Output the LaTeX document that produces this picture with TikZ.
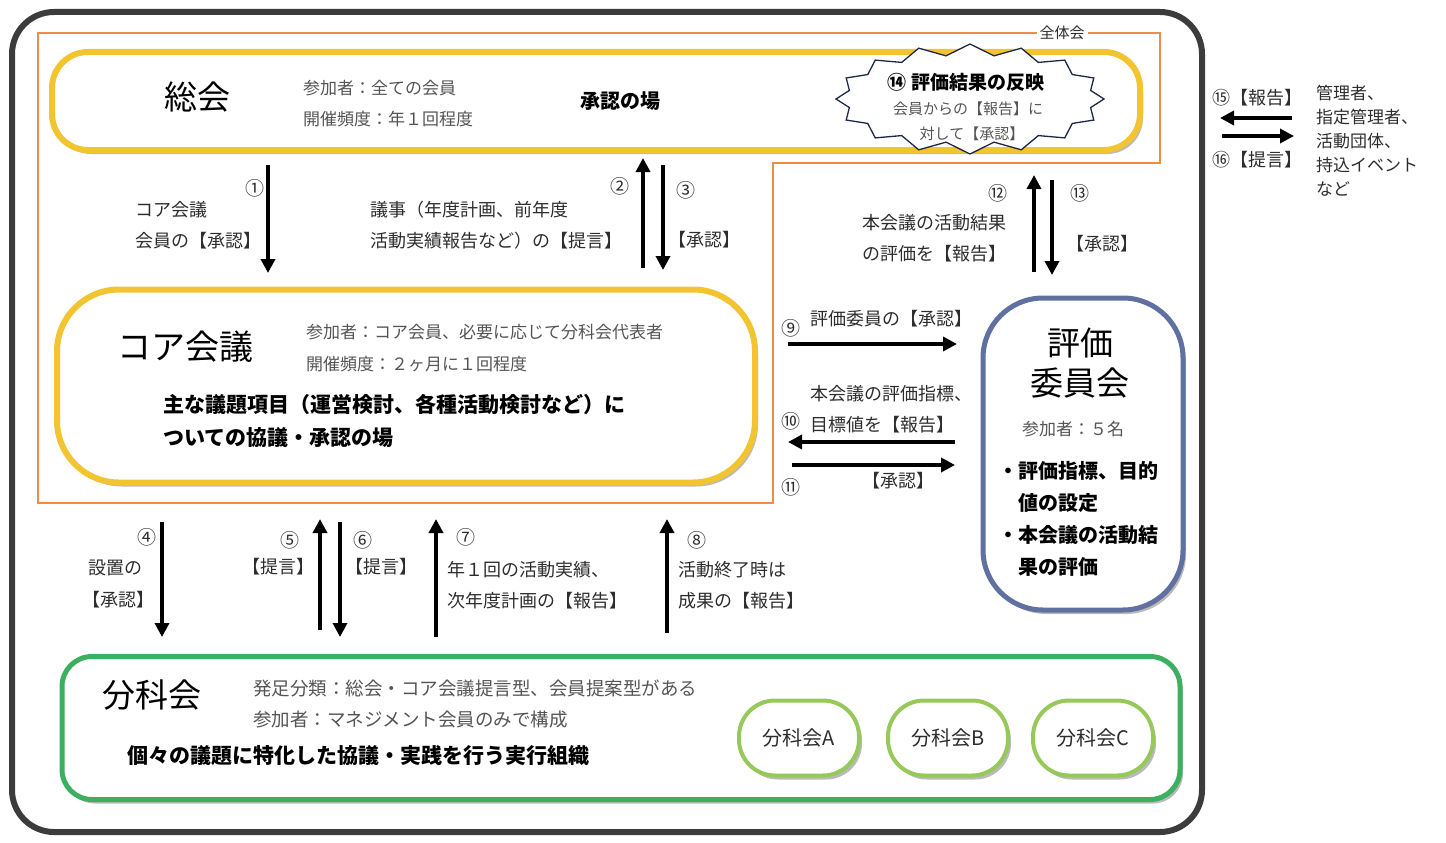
\documentclass[tikz,border=0pt]{standalone}
\usepackage{fontspec}
\setmainfont{Noto Sans CJK JP}
\usetikzlibrary{shapes.symbols,shadows,arrows.meta}
\definecolor{frame}{RGB}{60,60,60}
\definecolor{orng}{RGB}{240,140,70}
\definecolor{gold}{RGB}{242,196,48}
\definecolor{bluegray}{RGB}{96,112,160}
\definecolor{grn}{RGB}{60,176,96}
\definecolor{lgrn}{RGB}{150,200,90}
\definecolor{navy}{RGB}{30,40,70}
\definecolor{txtg}{RGB}{85,85,85}
\definecolor{txtd}{RGB}{45,45,45}
\tikzset{
  shd/.style={drop shadow={shadow xshift=3pt,shadow yshift=-4pt,opacity=0.45,fill=black!60}},
  goldbox/.style={draw=gold, line width=6pt, fill=white, shd},
  bluebox/.style={draw=bluegray, line width=5pt, fill=white, shd, rounded corners=60pt},
  greenbox/.style={draw=grn, line width=5pt, fill=white, shd, rounded corners=30pt},
  subbox/.style={draw=lgrn, line width=4pt, fill=white, shd, rounded corners=36pt,
     minimum width=120pt, minimum height=75pt, font=\fontsize{20}{22}\selectfont, text=txtd},
  arr/.style={line width=3.5pt, -{Triangle[length=14pt,width=14pt]}},
  lbl/.style={anchor=west, inner sep=0pt, text=txtd, font=\fontsize{18}{20}\selectfont},
  num/.style={inner sep=0pt, text=txtd, font=\fontsize{19}{20}\selectfont},
  info/.style={anchor=west, inner sep=0pt, text=txtg, font=\fontsize{17}{19}\selectfont},
  big/.style={inner sep=0pt, text=black, font=\fontsize{33}{36}\selectfont},
  bold/.style={anchor=west, inner sep=0pt, text=black, font=\bfseries\fontsize{21}{23}\selectfont},
}
\begin{document}
\begin{tikzpicture}[x=1pt,y=-1pt]
\useasboundingbox (0,0) rectangle (1446,843);
% outer frame
\draw[frame, line width=6pt, rounded corners=42pt] (12,12) rectangle (1202,832);
% orange frame (全体会)
\draw[orng, line width=1.6pt] (38,33) -- (1160,33) -- (1160,163) -- (773,163) -- (773,503) -- (38,503) -- cycle;
\node[fill=white, inner sep=3pt, text=txtd, font=\fontsize{15}{17}\selectfont] (zentai) at (1062,33) {全体会};

% 総会
\node[goldbox, rounded corners=36pt, minimum width=1088pt, minimum height=98pt] (sokai) at (596,101) {};
\node[big] (sokaiT) at (197,97) {総会};
\node[info] (sokaiI1) at (303,88) {参加者：全ての会員};
\node[info] (sokaiI2) at (303,119) {開催頻度：年１回程度};
\node[inner sep=0pt, font=\bfseries\fontsize{20}{22}\selectfont] (sokaiB) at (620,101) {承認の場};
% starburst
\node[starburst, starburst points=16, starburst point height=11pt, random starburst=0,
      draw=navy, fill=white, line width=1.3pt, minimum width=268pt, minimum height=110pt] (burst) at (970,99) {};
\node[inner sep=0pt, font=\bfseries\fontsize{19}{21}\selectfont] (b1) at (966,82) {⑭ 評価結果の反映};
\node[inner sep=0pt, text=txtg, font=\fontsize{15}{17}\selectfont] (b2) at (968,109) {会員からの【報告】に};
\node[inner sep=0pt, text=txtg, font=\fontsize{15}{17}\selectfont] (b3) at (972,134) {対して【承認】};

% コア会議
\node[goldbox, rounded corners=62pt, minimum width=698pt, minimum height=193pt] (core) at (406,386) {};
\node[big, font=\fontsize{34}{36}\selectfont] (coreT) at (185,347) {コア会議};
\node[info] (coreI1) at (306,332) {参加者：コア会員、必要に応じて分科会代表者};
\node[info] (coreI2) at (306,364) {開催頻度：２ヶ月に１回程度};
\node[bold] (coreB1) at (163,404) {主な議題項目（運営検討、各種活動検討など）に};
\node[bold] (coreB2) at (163,438) {ついての協議・承認の場};

% 評価委員会
\node[bluebox, minimum width=200pt, minimum height=312pt] (hyoka) at (1083,454) {};
\node[big] (hyT1) at (1080,343) {評価};
\node[big] (hyT2) at (1080,383) {委員会};
\node[inner sep=0pt, text=txtg, font=\fontsize{17}{19}\selectfont] (hyI) at (1073,429) {参加者：５名};
\node[bold, font=\bfseries\fontsize{20}{22}\selectfont] (hyB1) at (998,471) {・評価指標、目的};
\node[bold, font=\bfseries\fontsize{20}{22}\selectfont] (hyB2) at (1018,503) {値の設定};
\node[bold, font=\bfseries\fontsize{20}{22}\selectfont] (hyB3) at (998,535) {・本会議の活動結};
\node[bold, font=\bfseries\fontsize{20}{22}\selectfont] (hyB4) at (1018,567) {果の評価};

% 分科会
\node[greenbox, minimum width=1118pt, minimum height=143pt] (bunka) at (621,728) {};
\node[big] (bunkaT) at (152,695) {分科会};
\node[info, font=\fontsize{18.5}{20}\selectfont] (bunI1) at (253,688) {発足分類：総会・コア会議提言型、会員提案型がある};
\node[info, font=\fontsize{18.5}{20}\selectfont] (bunI2) at (253,720) {参加者：マネジメント会員のみで構成};
\node[bold] (bunB) at (127,756) {個々の議題に特化した協議・実践を行う実行組織};
\node[subbox] (bA) at (799,738) {分科会A};
\node[subbox] (bB) at (948,738) {分科会B};
\node[subbox] (bC) at (1093,738) {分科会C};

% arrows 1-3
\coordinate (a1s) at (268,165); \coordinate (a1e) at (268,273);
\draw[arr] (a1s) -- (a1e);
\node[num] (n1) at (255,188) {①};
\node[lbl] (l1a) at (135,210) {コア会議};
\node[lbl] (l1b) at (135,241) {会員の【承認】};
\coordinate (a2s) at (643,268); \coordinate (a2e) at (643,158);
\draw[arr] (a2s) -- (a2e);
\coordinate (a3s) at (663,165); \coordinate (a3e) at (663,270);
\draw[arr] (a3s) -- (a3e);
\node[num] (n2) at (620,186) {②};
\node[num] (n3) at (686,190) {③};
\node[lbl] (l2a) at (370,210) {議事（年度計画、前年度};
\node[lbl] (l2b) at (370,241) {活動実績報告など）の【提言】};
\node[lbl] (l3) at (668,240) {【承認】};

% arrows 12-13
\coordinate (a12s) at (1034,272); \coordinate (a12e) at (1034,175);
\draw[arr] (a12s) -- (a12e);
\coordinate (a13s) at (1052,180); \coordinate (a13e) at (1052,275);
\draw[arr] (a13s) -- (a13e);
\node[num] (n12) at (998,193) {⑫};
\node[num] (n13) at (1080,193) {⑬};
\node[lbl] (l12a) at (862,223) {本会議の活動結果};
\node[lbl] (l12b) at (862,254) {の評価を【報告】};
\node[lbl] (l13) at (1066,244) {【承認】};

% arrows 9-11
\coordinate (a9s) at (788,344); \coordinate (a9e) at (957,344);
\draw[arr] (a9s) -- (a9e);
\node[num] (n9) at (791,328) {⑨};
\node[lbl] (l9) at (810,319) {評価委員の【承認】};
\coordinate (a10s) at (955,442); \coordinate (a10e) at (788,442);
\draw[arr] (a10s) -- (a10e);
\node[lbl] (l10a) at (810,394) {本会議の評価指標、};
\node[num] (n10) at (791,421) {⑩};
\node[lbl] (l10b) at (810,425) {目標値を【報告】};
\coordinate (a11s) at (792,465); \coordinate (a11e) at (955,465);
\draw[arr] (a11s) -- (a11e);
\node[lbl] (l11) at (862,481) {【承認】};
\node[num] (n11) at (791,487) {⑪};

% arrows 15-16
\coordinate (a15s) at (1292,118); \coordinate (a15e) at (1220,118);
\draw[arr] (a15s) -- (a15e);
\coordinate (a16s) at (1222,136); \coordinate (a16e) at (1294,136);
\draw[arr] (a16s) -- (a16e);
\node[lbl] (l15) at (1212,98) {⑮【報告】};
\node[lbl] (l16) at (1212,160) {⑯【提言】};
\node[lbl, font=\fontsize{17}{19}\selectfont] (o1) at (1316,93) {管理者、};
\node[lbl, font=\fontsize{17}{19}\selectfont] (o2) at (1316,117) {指定管理者、};
\node[lbl, font=\fontsize{17}{19}\selectfont] (o3) at (1316,141) {活動団体、};
\node[lbl, font=\fontsize{17}{19}\selectfont] (o4) at (1316,165) {持込イベント};
\node[lbl, font=\fontsize{17}{19}\selectfont] (o5) at (1316,189) {など};

% arrows 4-8
\coordinate (a4s) at (162,522); \coordinate (a4e) at (162,637);
\draw[arr] (a4s) -- (a4e);
\node[num] (n4) at (147,537) {④};
\node[lbl] (l4a) at (88,568) {設置の};
\node[lbl] (l4b) at (82,600) {【承認】};
\coordinate (a5s) at (320,630); \coordinate (a5e) at (320,519);
\draw[arr] (a5s) -- (a5e);
\coordinate (a6s) at (340,522); \coordinate (a6e) at (340,637);
\draw[arr] (a6s) -- (a6e);
\node[num] (n5) at (290,540) {⑤};
\node[num] (n6) at (363,540) {⑥};
\node[lbl] (l5) at (242,567) {【提言】};
\node[lbl] (l6) at (345,567) {【提言】};
\coordinate (a7s) at (436,637); \coordinate (a7e) at (436,519);
\draw[arr] (a7s) -- (a7e);
\node[num] (n7) at (466,537) {⑦};
\node[lbl] (l7a) at (447,570) {年１回の活動実績、};
\node[lbl] (l7b) at (447,601) {次年度計画の【報告】};
\coordinate (a8s) at (667,633); \coordinate (a8e) at (667,519);
\draw[arr] (a8s) -- (a8e);
\node[num] (n8) at (697,540) {⑧};
\node[lbl] (l8a) at (678,570) {活動終了時は};
\node[lbl] (l8b) at (678,601) {成果の【報告】};
\end{tikzpicture}
\end{document}
